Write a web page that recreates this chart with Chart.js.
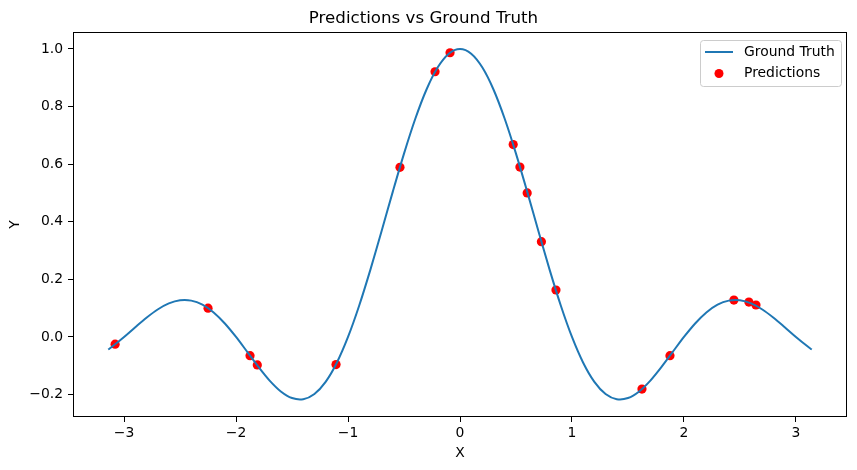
<!DOCTYPE html>
<html>
<head>
<meta charset="utf-8">
<script src="https://cdn.jsdelivr.net/npm/chart.js@4"></script>
<style>
  body { margin: 0; background: #fff; }
  #wrap { width: 857px; height: 470px; }
</style>
</head>
<body>
<div id="wrap"><canvas id="chart" width="857" height="470"></canvas></div>
<script>
// ground truth curve, sampled every 0.1 (plus the two end points)
const gtX = [-3.1416, -3.1, -3.0, -2.9, -2.8, -2.7, -2.6, -2.5, -2.4, -2.3, -2.2, -2.1, -2.0,
    -1.9, -1.8, -1.7, -1.6, -1.5, -1.4, -1.3, -1.2, -1.1, -1.0,
    -0.9, -0.8, -0.7, -0.6, -0.5, -0.4, -0.3, -0.2, -0.1, 0.0,
    0.1, 0.2, 0.3, 0.4, 0.5, 0.6, 0.7, 0.8, 0.9, 1.0,
    1.1, 1.2, 1.3, 1.4, 1.5, 1.6, 1.7, 1.8, 1.9, 2.0,
    2.1, 2.2, 2.3, 2.4, 2.5, 2.6, 2.7, 2.8, 2.9, 3.0, 3.1, 3.1416];
const gtY = [-0.0436, -0.0317, 0.0, 0.0339, 0.0668, 0.0954, 0.1164, 0.1273, 0.1261, 0.1120, 0.0850, 0.0468, 0.0,
    -0.0518, -0.1039, -0.1515, -0.1892, -0.2122, -0.2162, -0.1981, -0.1559, -0.0894, 0.0,
    0.1093, 0.2339, 0.3679, 0.5046, 0.6366, 0.7568, 0.8584, 0.9355, 0.9836, 1.0,
    0.9836, 0.9355, 0.8584, 0.7568, 0.6366, 0.5046, 0.3679, 0.2339, 0.1093, 0.0,
    -0.0894, -0.1559, -0.1981, -0.2162, -0.2122, -0.1892, -0.1515, -0.1039, -0.0518, 0.0,
    0.0468, 0.0850, 0.1120, 0.1261, 0.1273, 0.1164, 0.0954, 0.0668, 0.0339, 0.0, -0.0317, -0.0436];

// predicted points
const predX = [-3.08, -2.25, -1.875, -1.81, -1.107, -0.536, -0.223, -0.089,
    0.475, 0.535, 0.60, 0.727, 0.857, 1.625, 1.875, 2.446, 2.58, 2.643];
const predY = [-0.025, 0.100, -0.065, -0.097, -0.096, 0.589, 0.921, 0.987,
    0.668, 0.590, 0.500, 0.331, 0.163, -0.181, -0.065, 0.128, 0.121, 0.111];

const xTicks = [-3, -2, -1, 0, 1, 2, 3];
const yTicks = [-0.2, 0.0, 0.2, 0.4, 0.6, 0.8, 1.0];

const FONT = 'DejaVu Sans';
const minus = s => String(s).replace('-', '\u2212');

// matplotlib-like box around the plot area
const framePlugin = {
    id: 'frame',
    afterDatasetsDraw(chart) {
        const a = chart.chartArea;
        const ctx = chart.ctx;
        ctx.save();
        ctx.strokeStyle = '#000';
        ctx.lineWidth = 1;
        ctx.strokeRect(Math.round(a.left) + 0.5, Math.round(a.top) + 0.5,
            Math.round(a.right - a.left) - 1, Math.round(a.bottom - a.top) - 1);
        ctx.restore();
    }
};

// legend drawn in the top right corner of the axes
const legendPlugin = {
    id: 'mplLegend',
    afterDraw(chart) {
        const ctx = chart.ctx;
        const a = chart.chartArea;
        const w = 141, h = 46;
        const x = a.right - 6 - w, y = a.top + 8;
        const sets = chart.data.datasets;
        ctx.save();
        ctx.beginPath();
        ctx.roundRect(x + 0.5, y + 0.5, w, h, 3);
        ctx.fillStyle = 'rgba(255,255,255,0.8)';
        ctx.fill();
        ctx.strokeStyle = '#cccccc';
        ctx.lineWidth = 1;
        ctx.stroke();

        ctx.font = '13.9px "' + FONT + '"';
        ctx.textBaseline = 'middle';
        ctx.fillStyle = '#000';

        // Ground Truth
        ctx.beginPath();
        ctx.moveTo(x + 5, y + 12);
        ctx.lineTo(x + 33, y + 12);
        ctx.strokeStyle = sets[0].borderColor;
        ctx.lineWidth = 2;
        ctx.stroke();
        ctx.fillText(sets[0].label, x + 44, y + 12);

        // Predictions
        ctx.beginPath();
        ctx.arc(x + 19, y + 33.5, 4.5, 0, Math.PI * 2);
        ctx.fillStyle = sets[1].backgroundColor;
        ctx.fill();
        ctx.fillStyle = '#000';
        ctx.fillText(sets[1].label, x + 44, y + 33);
        ctx.restore();
    }
};

new Chart(document.getElementById('chart'), {
    type: 'scatter',
    data: {
        datasets: [{
            label: 'Ground Truth',
            data: gtX.map((x, i) => ({x: x, y: gtY[i]})),
            showLine: true,
            borderColor: '#1f77b4',
            borderWidth: 2,
            pointRadius: 0,
            tension: 0.3,
            order: 1   // line sits on top of the dots, as in the original
        }, {
            label: 'Predictions',
            data: predX.map((x, i) => ({x: x, y: predY[i]})),
            backgroundColor: '#ff0000',
            borderWidth: 0,
            pointRadius: 4.6,
            order: 2
        }]
    },
    options: {
        responsive: false,
        animation: false,
        devicePixelRatio: 1,
        layout: {padding: {left: 0, right: 10, top: 0, bottom: 0}},
        plugins: {
            legend: {display: false},
            tooltip: {enabled: false},
            title: {
                display: true,
                text: 'Predictions vs Ground Truth',
                color: '#000',
                font: {family: FONT, size: 16.67, weight: 'normal'},
                padding: {top: 8.5, bottom: 3.5}
            }
        },
        scales: {
            x: {
                type: 'linear',
                min: -3.456,
                max: 3.456,
                afterBuildTicks: scale => { scale.ticks = xTicks.map(v => ({value: v})); },
                afterFit: scale => { scale.height = 53; },
                grid: {drawOnChartArea: false, tickLength: 5, tickColor: '#000'},
                border: {display: false},
                ticks: {
                    autoSkip: false,
                    maxRotation: 0,
                    color: '#000',
                    padding: 3,
                    font: {family: FONT, size: 13.9},
                    callback: v => minus(v)
                },
                title: {
                    display: true,
                    text: 'X',
                    color: '#000',
                    font: {family: FONT, size: 13.9},
                    padding: {top: 0, bottom: 8}
                }
            },
            y: {
                type: 'linear',
                min: -0.278,
                max: 1.059,
                afterBuildTicks: scale => { scale.ticks = yTicks.map(v => ({value: v})); },
                afterFit: scale => { scale.width = 73; },
                grid: {drawOnChartArea: false, tickLength: 5, tickColor: '#000'},
                border: {display: false},
                ticks: {
                    autoSkip: false,
                    color: '#000',
                    padding: 5,
                    font: {family: FONT, size: 13.9},
                    callback: v => minus(v.toFixed(1))
                },
                title: {
                    display: true,
                    text: 'Y',
                    color: '#000',
                    font: {family: FONT, size: 13.9},
                    padding: {top: 6.7, bottom: 0}
                }
            }
        }
    },
    plugins: [framePlugin, legendPlugin]
});
</script>
</body>
</html>
